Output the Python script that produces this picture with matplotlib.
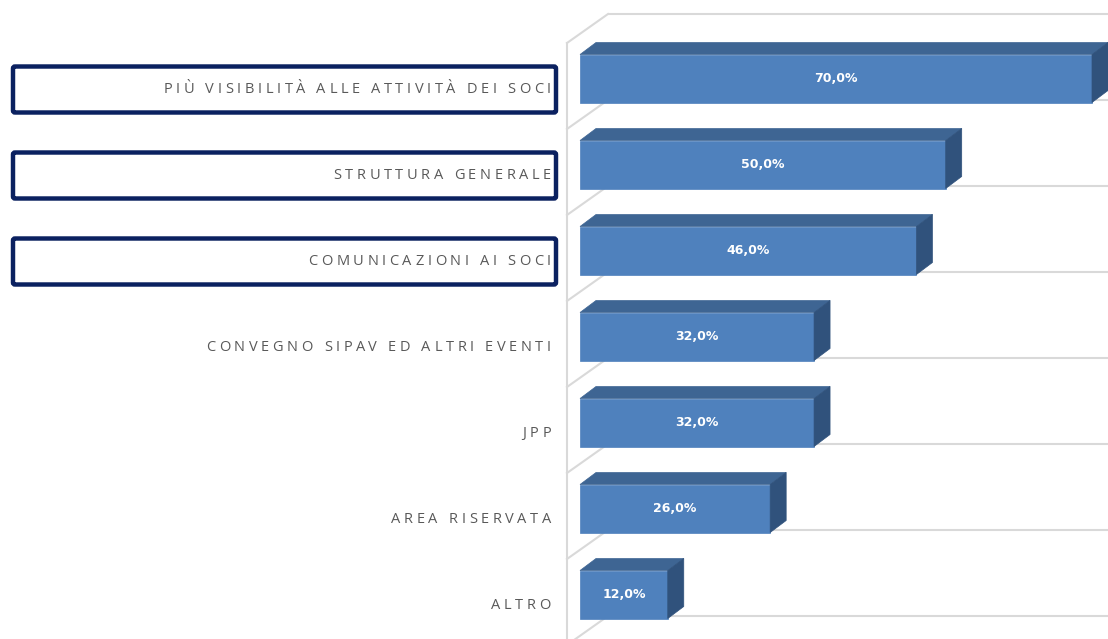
import matplotlib
matplotlib.use("Agg")
import matplotlib.pyplot as plt
from matplotlib.patches import Polygon, FancyBboxPatch
from matplotlib.font_manager import FontProperties, findfont, get_font

# data
categories = [
    "PIÙ VISIBILITÀ ALLE ATTIVITÀ DEI SOCI",
    "STRUTTURA GENERALE",
    "COMUNICAZIONI AI SOCI",
    "CONVEGNO SIPAV ED ALTRI EVENTI",
    "JPP",
    "AREA RISERVATA",
    "ALTRO",
]
values = [70.0, 50.0, 46.0, 32.0, 32.0, 26.0, 12.0]
boxed = [True, True, True, False, False, False, False]

# styling
W, H, DPI = 1108, 639, 100
front_col = "#4F81BD"
top_col = "#3E6593"
side_col = "#30527C"
grid_col = "#D9D9D9"
text_col = "#595959"
box_col = "#0B2160"

px_per_val = 512 / 70.0      # pixels per percent
px_per_cat = 86.0            # pixels between categories
x0_px = 580.0                # pixel x of value 0
y0_px = 78.5                 # pixel y of first bar centre

label_size = 10.5
tracking = 3.6               # extra pixels between letters
label_fp = FontProperties(family="Open Sans", size=label_size)
label_font = get_font(findfont(label_fp))
label_font.set_size(label_size, DPI)


def advance(ch):
    g = label_font.load_char(ord(ch))
    return g.linearHoriAdvance / 65536.0


def draw_spaced(axis, x_right, y, s):
    # letter-spaced label, right aligned at x_right (pixels)
    advs = [advance(c) for c in s]
    total = sum(advs) + tracking * (len(s) - 1)
    x = x_right - total
    for c, a in zip(s, advs):
        if c != " ":
            axis.text(x, y, c, ha="left", va="center", color=text_col,
                      fontproperties=label_fp)
        x += a + tracking


fig = plt.figure(figsize=(W / DPI, H / DPI), dpi=DPI)
fig.patch.set_facecolor("white")

# main axes: x in percent, y in category index (inverted)
ax_left_px = 565.0
xmin = (ax_left_px - x0_px) / px_per_val
xmax = (W - x0_px) / px_per_val
ymin = (0 - y0_px) / px_per_cat
ymax = (H - y0_px) / px_per_cat
ax = fig.add_axes([ax_left_px / W, 0, 1 - ax_left_px / W, 1])
ax.set_xlim(xmin, xmax)
ax.set_ylim(ymax, ymin)
ax.axis("off")

# 3D depth offsets in data units
dx = 16 / px_per_val
dy = 12 / px_per_cat
half = 24 / px_per_cat

# back wall / floor grid
wall_x = (567 - x0_px) / px_per_val
back_x = (608 - x0_px) / px_per_val
n = len(categories)
for k in range(n + 1):
    yb = (14 - y0_px) / px_per_cat + k
    yf = (43 - y0_px) / px_per_cat + k
    ax.plot([back_x, xmax], [yb, yb], color=grid_col, lw=1.5, zorder=1,
            solid_capstyle="butt")
    ax.plot([wall_x, back_x], [yf, yb], color=grid_col, lw=1.5, zorder=1)
ax.plot([wall_x, wall_x], [(43 - y0_px) / px_per_cat, ymax], color=grid_col,
        lw=1.5, zorder=1)

# bars
for i, v in enumerate(values):
    top = i - half
    bot = i + half
    faces = [
        ([(0, top), (v, top), (v, bot), (0, bot)], front_col),
        ([(0, top), (v, top), (v + dx, top - dy), (dx, top - dy)], top_col),
        ([(v, top), (v + dx, top - dy), (v + dx, bot - dy), (v, bot)], side_col),
    ]
    for pts, col in faces:
        ax.add_patch(Polygon(pts, closed=True, facecolor=col, edgecolor=col,
                             lw=0.5, zorder=3))
    ax.text(v / 2, i, f"{v:.1f}%".replace(".", ","), ha="center", va="center",
            color="white", fontsize=9, fontweight="bold", zorder=4,
            family=["DejaVu Sans"])

# label axes on the left: x in pixels, y in category index
ax_lab = fig.add_axes([0, 0, ax_left_px / W, 1])
ax_lab.set_xlim(0, ax_left_px)
ax_lab.set_ylim(ymax, ymin)
ax_lab.axis("off")

lab_off = 11 / px_per_cat
for i, (name, b) in enumerate(zip(categories, boxed)):
    yc = i + lab_off
    draw_spaced(ax_lab, 551, yc, name)
    if b:
        hh = 23 / px_per_cat
        rect = FancyBboxPatch((13, yc - hh), 543, 2 * hh,
                              boxstyle="round,pad=0,rounding_size=2",
                              facecolor="none", edgecolor=box_col, lw=3.2,
                              mutation_aspect=1 / px_per_cat)
        ax_lab.add_patch(rect)

fig.savefig("out.png", dpi=DPI, facecolor="white")
